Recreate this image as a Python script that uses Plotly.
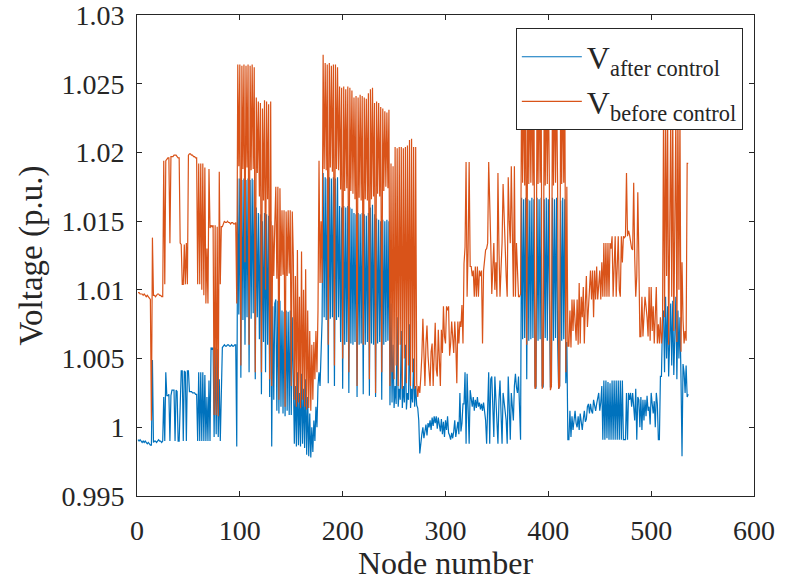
import numpy as np
import plotly.graph_objects as go

# Node voltages, stored as deviation from 1.0 p.u. in units of 1e-4 p.u.
before_001_025 = [98, 98, 97, 97, 97, 96, 97, 96, 95, 96,
                  95, 94, 93, 5, 138, 96, 96, 95, 96, 97,
                  97, 96, 96, 95, 95]
after_001_025 = [-9, -10, -9, -10, -11, -10, -11, -10, -11, -12,
                 -11, -12, -13, -13, 49, -11, -10, -10, -11, -10,
                 -9, -10, -10, -11, -10]

before_026_097 = [194, 104, 194, 195, 196, 196, 134, 197, 197, 197,
                  198, 198, 198, 197, 196, 196, 134, 133, 104, 104,
                  133, 104, 134, 104, 198, 199, 199, 198, 198, 197,
                  197, 196, 196, 104, 192, 104, 192, 100, 192, 96,
                  189, 90, 130, 90, 188, 145, 147, 146, 147, 9,
                  147, 9, 146, 8, 186, 104, 146, 146, 148, 150,
                  149, 149, 150, 149, 149, 148, 149, 149, 148, 148, 149, 90]
after_026_097 = [22, -10, 40, 23, 23, 24, -10, 23, 27, 27,
                 27, -10, 27, 26, -10, -10, 27, 41, 41, -10,
                 41, 40, -10, 41, 41, 26, 26, 26, 25, 25,
                 25, 24, 24, -10, 40, -10, 40, -10, 40, -10,
                 38, -10, 22, -10, 34, -10, 58, 57, 58, -7,
                 58, -5, 57, -7, 35, -10, 40, 58, 59, 60,
                 59, 59, 60, 60, 59, 59, 60, 59, 59, 60, 60, -14]

before_098_117 = [264, 190, 264, 45, 263, 188, 264, 120, 263, 189,
                  264, 60, 263, 187, 264, 188, 262, 40, 240, 185]
after_098_117 = [181, 82, 181, 36, 180, 78, 181, 60, 180, 80,
                 181, 40, 180, 79, 181, 83, 180, 35, 160, 80]

before_118_131 = [237, 168, 236, 40, 232, 165, 238, 100, 237, 166, 235, 35, 237, 30]
after_118_131 = [156, 64, 155, 24, 150, 62, 156, 40, 155, 60, 154, 22, 150, -14]

before_132_151 = [147, 110, 148, 175, 108, 175, 20, 174, 110, 158,
                  111, 158, 15, 157, 110, 158, 112, 158, 30, 157]
after_132_151 = [88, 20, 90, 93, 12, 92, 10, 92, 15, 85,
                 10, 84, 8, 85, 12, 84, 9, 85, 9, 80]

before_152_180 = [125, 20, 110, 15, 129, 18, 95, 14, 128, 20,
                  100, 15, 115, 13, 85, 14, 70, 12, 60, 20,
                  62, 35, 70, 40, 85, 194, 105, 150, 105]
after_152_180 = [38, -12, 30, -14, 40, -13, 25, -14, 39, -12,
                 28, -15, 35, -20, 22, -21, 10, -22, 0, -18,
                 5, -10, 15, 0, 30, 40, 30, 60, 78]

before_181_209 = [271, 188, 265, 187, 264, 60, 265, 189, 263, 186,
                  264, 45, 264, 188, 262, 187, 248, 173, 247, 50,
                  248, 172, 246, 174, 248, 40, 247, 172, 245]
after_181_209 = [185, 80, 182, 78, 181, 32, 182, 79, 181, 80,
                 182, 30, 181, 78, 182, 80, 161, 62, 160, 28,
                 161, 60, 160, 62, 161, 25, 160, 61, 159]

before_210_245 = [170, 240, 166, 241, 30, 240, 167, 242, 165, 241,
                  60, 240, 166, 239, 165, 243, 35, 246, 166, 247,
                  168, 236, 25, 237, 170, 236, 168, 233, 40, 232,
                  172, 230, 175, 229, 174, 231]
after_210_245 = [60, 156, 62, 155, 22, 156, 60, 155, 61, 156,
                 24, 155, 60, 154, 62, 156, 23, 160, 61, 162,
                 60, 155, 22, 152, 61, 151, 62, 150, 20, 151,
                 60, 150, 62, 151, 63, 150]

before_246_275 = [30, 192, 40, 190, 35, 204, 45, 203, 30, 204,
                  60, 204, 28, 203, 50, 204, 32, 205, 45, 209,
                  30, 210, 40, 204, 28, 204, 32, 22, 30, 25]
after_246_275 = [16, 90, 18, 60, 14, 30, 17, 80, 15, 28,
                 20, 70, 14, 30, 18, 60, 13, 25, 20, 75,
                 14, 28, 18, 50, 15, 30, 16, 14, 5, -19]

before_276_317 = [37, 52, 79, 52, 30, 61, 74, 52, 37, 30,
                  55, 61, 30, 61, 76, 42, 37, 71, 52, 30,
                  71, 54, 88, 66, 61, 88, 85, 88, 52, 61,
                  77, 61, 54, 77, 61, 32, 77, 61, 77, 73, 89, 61]
after_276_317 = [-10, -5, 0, -8, -3, 2, -6, 3, 0, 5,
                 -2, 7, 1, 8, 3, 8, -1, 7, 2, -3,
                 6, -5, 4, -7, 5, -2, 8, -4, -6, -9,
                 -4, -8, -3, 5, -7, -2, 4, -5, 25, -3, 3, 17]

before_318_340 = [119, 131, 193, 95, 130, 193, 117, 117, 110, 114,
                  95, 117, 95, 117, 95, 114, 110, 114, 61, 114,
                  120, 129, 130]
after_318_340 = [17, 40, -12, 39, 20, -12, 27, 20, 15, 22,
                 12, 20, 14, 22, 15, 18, 13, 17, 12, 18,
                 10, 5, -12]

before_341_373 = [134, 193, 150, 134, 97, 120, 134, 100, 120, 95,
                  185, 129, 95, 115, 134, 177, 150, 134, 110, 95,
                  182, 150, 134, 190, 120, 95, 190, 95, 134, 110,
                  95, 95, 97]
after_341_373 = [20, 40, -12, 35, 37, 10, -7, 37, 20, 12,
                 -12, 20, 34, 10, -12, 25, 18, 12, 5, -12,
                 37, 15, -9, 25, 15, 5, 30, 39, 29, 25,
                 37, 20, -9]

before_374_419 = [255, 178, 256, 176, 255, 60, 256, 177, 254, 178,
                  256, 176, 255, 28, 30, 255, 177, 256, 178, 255,
                  28, 32, 256, 176, 255, 177, 256, 178, 27, 30,
                  255, 176, 256, 178, 255, 177, 28, 30, 254, 177,
                  256, 178, 255, 40, 175, 59]
after_374_419 = [167, 64, 166, 65, 167, 35, 166, 63, 165, 64,
                 167, 65, 166, 30, 28, 167, 63, 166, 64, 167,
                 30, 29, 166, 65, 167, 63, 166, 64, 29, 30,
                 167, 63, 166, 65, 167, 64, 28, 30, 165, 63,
                 167, 64, 166, 32, 62, -9]

before_420_460 = [59, 85, 58, 93, 70, 93, 77, 63, 93, 60,
                  105, 61, 95, 80, 102, 61, 90, 110, 73, 88,
                  93, 114, 93, 114, 80, 114, 93, 117, 93, 105,
                  114, 93, 120, 95, 134, 95, 134, 95, 134, 95, 134]
after_420_460 = [-9, 12, -7, 8, -2, 5, 12, 3, 0, 8,
                 -2, 10, 3, -2, 6, 12, 4, 6, 15, 17,
                 10, 17, 12, 10, 20, 15, 12, 17, 20, 25,
                 12, 18, 30, -9, 34, -9, 34, -8, 33, -9, 32]

before_461_511 = [130, 139, 95, 120, 139, 95, 125, 139, 100, 95,
                  139, 120, 139, 138, 139, 185, 139, 143, 140, 134,
                  130, 129, 178, 124, 95, 110, 171, 124, 66, 66,
                  95, 66, 80, 95, 88, 80, 66, 102, 63, 102,
                  70, 88, 61, 85, 102, 61, 75, 61, 80, 61, 70]
after_461_511 = [-9, 34, -9, 34, -9, 34, -9, 34, -9, 34,
                 -9, 34, -9, -9, -9, 25, -9, 25, 20, 25,
                 15, 25, 10, 5, 28, -9, 22, 20, 0, 22,
                 -2, 20, 5, 20, 8, 23, 12, 15, 2, 25,
                 17, 10, 19, 0, 25, 17, -9, -9, 37, 37, 78]

before_512_536 = [225, 80, 230, 110, 228, 60, 140, 225, 95, 230,
                  70, 160, 228, 62, 232, 100, 226, 55, 120, 78,
                  61, 70, 63, 192, 192]
after_512_536 = [85, 40, 95, 50, 88, 37, 60, 90, 45, 92,
                 38, 70, 95, 35, 85, 50, 80, 36, -21, 46,
                 40, 25, 45, 22, 24]

before_segments = [before_001_025, before_026_097, before_098_117, before_118_131,
                   before_132_151, before_152_180, before_181_209, before_210_245,
                   before_246_275, before_276_317, before_318_340, before_341_373,
                   before_374_419, before_420_460, before_461_511, before_512_536]
after_segments = [after_001_025, after_026_097, after_098_117, after_118_131,
                  after_132_151, after_152_180, after_181_209, after_210_245,
                  after_246_275, after_276_317, after_318_340, after_341_373,
                  after_374_419, after_420_460, after_461_511, after_512_536]

v_before = 1.0 + np.concatenate([np.array(s, dtype=float) for s in before_segments]) * 1e-4
v_after = 1.0 + np.concatenate([np.array(s, dtype=float) for s in after_segments]) * 1e-4
nodes_before = np.arange(1, len(v_before) + 1)
nodes_after = np.arange(1, len(v_after) + 1)

x_ticks = [0, 100, 200, 300, 400, 500, 600]
y_ticks = [0.995, 1.0, 1.005, 1.01, 1.015, 1.02, 1.025, 1.03]
y_ticktext = ["0.995", "1", "1.005", "1.01", "1.015", "1.02", "1.025", "1.03"]

BLUE = "#0072BD"
ORANGE = "#D95319"
AX = "#262626"
FONT = "Liberation Serif"

fig = go.Figure()
fig.add_trace(go.Scatter(x=nodes_after, y=v_after, mode="lines",
                         line=dict(color=BLUE, width=1.2),
                         name="V<sub>after control</sub>"))
fig.add_trace(go.Scatter(x=nodes_before, y=v_before, mode="lines",
                         line=dict(color=ORANGE, width=1.2),
                         name="V<sub>before control</sub>"))

fig.update_layout(
    width=786, height=581,
    margin=dict(l=137, r=32, t=15, b=85),
    plot_bgcolor="white", paper_bgcolor="white",
    font=dict(family=FONT, color=AX),
    showlegend=True,
    legend=dict(x=0.614, y=0.972, xanchor="left", yanchor="top",
                bgcolor="white", bordercolor=AX, borderwidth=1,
                font=dict(family=FONT, size=32, color=AX),
                tracegroupgap=0, itemwidth=60),
)
fig.update_xaxes(range=[0, 600], tickvals=x_ticks, ticks="inside", ticklen=5,
                 tickcolor=AX, showline=True, linecolor=AX, linewidth=1,
                 mirror="allticks", showgrid=False, zeroline=False,
                 automargin=False,
                 ticklabeloverflow="allow", ticklabelstandoff=9,
                 tickfont=dict(family=FONT, size=28, color=AX),
                 title=dict(text="Node number", font=dict(family=FONT, size=32, color=AX),
                            standoff=7))
fig.update_yaxes(range=[0.995, 1.03], tickvals=y_ticks, ticktext=y_ticktext,
                 ticks="inside", ticklen=5, tickcolor=AX, showline=True,
                 linecolor=AX, linewidth=1, mirror="allticks", showgrid=False,
                 zeroline=False, ticklabelstandoff=6, ticklabeloverflow="allow",
                 automargin=False,
                 tickfont=dict(family=FONT, size=28, color=AX),
                 title=dict(text="Voltage (p.u.)", font=dict(family=FONT, size=33, color=AX),
                            standoff=8))

fig.write_html("out.html")
